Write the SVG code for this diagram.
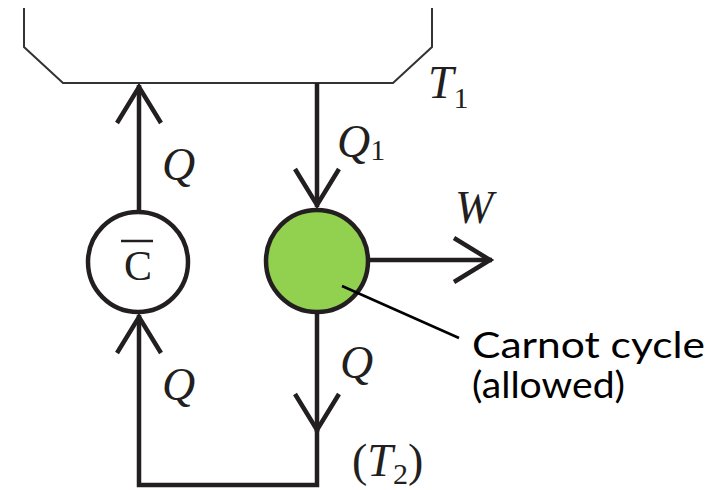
<svg xmlns="http://www.w3.org/2000/svg" width="719" height="490" viewBox="0 0 719 490">
<style>
.res{fill:none;stroke:#333;stroke-width:2;stroke-linejoin:miter}
.conn{fill:none;stroke:#231f20;stroke-width:4.5;stroke-linejoin:miter}
.node{stroke:#231f20;stroke-width:4.5}
.math{font-family:"Liberation Serif","DejaVu Serif",serif;font-style:italic;fill:#231f20}
.rm{font-family:"Liberation Serif","DejaVu Serif",serif;fill:#231f20}
.note{font-family:Lato,"Liberation Sans",sans-serif;fill:#000}
.lead{stroke:#000;stroke-width:2.5;fill:none}
</style>
<defs>
<marker id="chev" viewBox="-45 -30 50 60" refX="0" refY="0" markerWidth="50" markerHeight="60" markerUnits="userSpaceOnUse" orient="auto">
<path d="M-38 -22 L-2 0 L-38 22" fill="none" stroke="#231f20" stroke-width="4.5" stroke-linejoin="miter"/>
</marker>
</defs>
<g id="hot-reservoir">
<path class="res" d="M24 8 V47 L63 83 H393 L432 47 V8"/>
<text class="math" x="428" y="98" font-size="46">T<tspan font-style="normal" font-size="30" dy="10">1</tspan></text>
</g>
<g id="connectors">
<path class="conn" d="M139 211 V85" marker-end="url(#chev)"/>
<path class="conn" d="M317 83 V207" marker-end="url(#chev)"/>
<path class="conn" d="M370 260 H492" marker-end="url(#chev)"/>
<path class="conn" d="M317 313 V432" marker-end="url(#chev)"/>
<path class="conn" d="M317 428 V485 H139 V315" marker-end="url(#chev)"/>
<text class="math" x="162" y="180" font-size="46">Q</text>
<text class="math" x="337" y="157" font-size="46">Q<tspan font-style="normal" font-size="30" dy="3">1</tspan></text>
<text class="math" x="455" y="223" font-size="46">W</text>
<text class="math" x="340" y="378" font-size="46">Q</text>
<text class="math" x="162" y="400" font-size="46">Q</text>
<text class="math" x="352" y="476" font-size="46"><tspan font-style="normal">(</tspan>T<tspan font-style="normal" font-size="30" dy="8">2</tspan><tspan font-style="normal" dy="-8">)</tspan></text>
</g>
<g id="node-cbar">
<circle class="node" cx="138" cy="262" r="50" fill="#fff"/>
<text class="rm" x="138" y="280" font-size="42" text-anchor="middle">C</text>
<line x1="121" y1="241" x2="153" y2="241" stroke="#231f20" stroke-width="2.5"/>
</g>
<g id="node-carnot">
<circle class="node" cx="317" cy="261" r="51" fill="#92d050"/>
</g>
<g id="label-carnot">
<line class="lead" x1="342" y1="286" x2="459" y2="338"/>
<text class="note" x="472" y="358" font-size="37" textLength="233" lengthAdjust="spacingAndGlyphs">Carnot cycle</text>
<text class="note" x="472" y="398" font-size="37" textLength="153" lengthAdjust="spacingAndGlyphs">(allowed)</text>
</g>
</svg>
